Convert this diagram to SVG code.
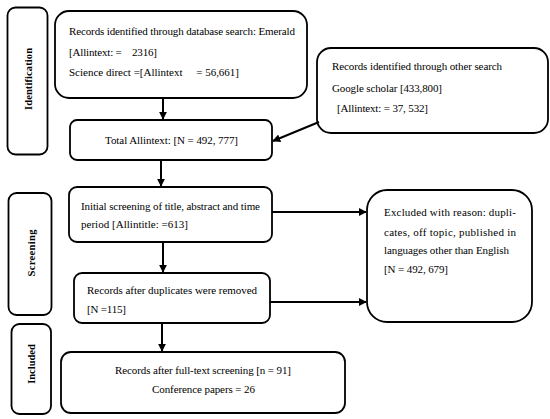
<svg xmlns="http://www.w3.org/2000/svg" width="550" height="419" viewBox="0 0 550 419">
<style>
.box{fill:#fff;stroke:#000;stroke-width:1.8}
.t{font-family:'Liberation Serif','DejaVu Serif',serif;font-size:11px;fill:#000}
.lab{font-family:'Liberation Serif','DejaVu Serif',serif;font-size:10.5px;font-weight:bold;fill:#000}
.c{stroke:#000;stroke-width:2;fill:none}
</style>
<defs>
<marker id="ah" viewBox="0 0 10 10" refX="9" refY="5" markerWidth="4" markerHeight="4" orient="auto" markerUnits="strokeWidth">
<path d="M0,0 L10,5 L0,10 z" fill="#000"/>
</marker>
</defs>
<rect width="550" height="419" fill="#fff"/>
<g id="phase-identification">
<rect class="box" x="7.5" y="7.5" width="40" height="147" rx="8"/>
<text class="lab" transform="translate(32,79) rotate(-90)" text-anchor="middle" textLength="62">Identification</text>
</g>
<g id="phase-screening">
<rect class="box" x="8.5" y="193" width="43" height="122" rx="8"/>
<text class="lab" transform="translate(35,253) rotate(-90)" text-anchor="middle" textLength="47">Screening</text>
</g>
<g id="phase-included">
<rect class="box" x="11.5" y="324" width="39.5" height="90" rx="8"/>
<text class="lab" transform="translate(35,364) rotate(-90)" text-anchor="middle">Included</text>
</g>
<g id="n-database">
<rect class="box" x="55" y="11" width="252" height="87" rx="14"/>
<text class="t" x="69" y="35" textLength="226">Records identified through database search: Emerald</text>
<text class="t" x="69" y="56" xml:space="preserve" textLength="88">[Allintext: =    2316]</text>
<text class="t" x="69" y="76" xml:space="preserve" textLength="170">Science direct =[Allintext     = 56,661]</text>
</g>
<g id="n-other">
<rect class="box" x="317" y="48" width="231" height="85" rx="14"/>
<text class="t" x="332" y="70" textLength="170">Records identified through other search</text>
<text class="t" x="332" y="92" textLength="110">Google scholar [433,800]</text>
<text class="t" x="337" y="112" textLength="91">[Allintext: = 37, 532]</text>
</g>
<g id="n-total">
<rect class="box" x="70" y="120" width="202" height="40" rx="7"/>
<text class="t" x="105" y="144" textLength="133">Total Allintext: [N = 492, 777]</text>
</g>
<g id="n-screening">
<rect class="box" x="69" y="187" width="203" height="55" rx="8"/>
<text class="t" x="81" y="210" textLength="179">Initial screening of title, abstract and time</text>
<text class="t" x="81" y="228" textLength="107">period [Allintitle: =613]</text>
</g>
<g id="n-duplicates">
<rect class="box" x="74" y="273" width="196" height="50" rx="8"/>
<text class="t" x="87" y="294" textLength="170">Records after duplicates were removed</text>
<text class="t" x="87" y="313" textLength="39">[N =115]</text>
</g>
<g id="n-excluded">
<rect class="box" x="367" y="190" width="165" height="132" rx="20"/>
<text class="t" x="384" y="216" textLength="132" lengthAdjust="spacing">Excluded with reason: dupli-</text>
<text class="t" x="384" y="236" textLength="132" lengthAdjust="spacing">cates, off topic, published in</text>
<text class="t" x="384" y="254" textLength="125">languages other than English</text>
<text class="t" x="384" y="273" textLength="64">[N = 492, 679]</text>
</g>
<g id="n-included">
<rect class="box" x="61" y="352" width="284" height="61" rx="10"/>
<text class="t" x="115" y="374" textLength="176">Records after full-text screening [n = 91]</text>
<text class="t" x="152" y="393" textLength="103">Conference papers = 26</text>
</g>
<g id="connectors">
<line class="c" x1="163" y1="98" x2="163" y2="119" marker-end="url(#ah)"/>
<line class="c" x1="319" y1="122" x2="273" y2="141" marker-end="url(#ah)"/>
<line class="c" x1="161" y1="160" x2="161" y2="186" marker-end="url(#ah)"/>
<line class="c" x1="163" y1="242" x2="163" y2="272" marker-end="url(#ah)"/>
<line class="c" x1="162" y1="323" x2="162" y2="351" marker-end="url(#ah)"/>
<line class="c" x1="272" y1="212" x2="366" y2="212" marker-end="url(#ah)"/>
<line class="c" x1="270" y1="302" x2="366" y2="302" marker-end="url(#ah)"/>
</g>
</svg>
